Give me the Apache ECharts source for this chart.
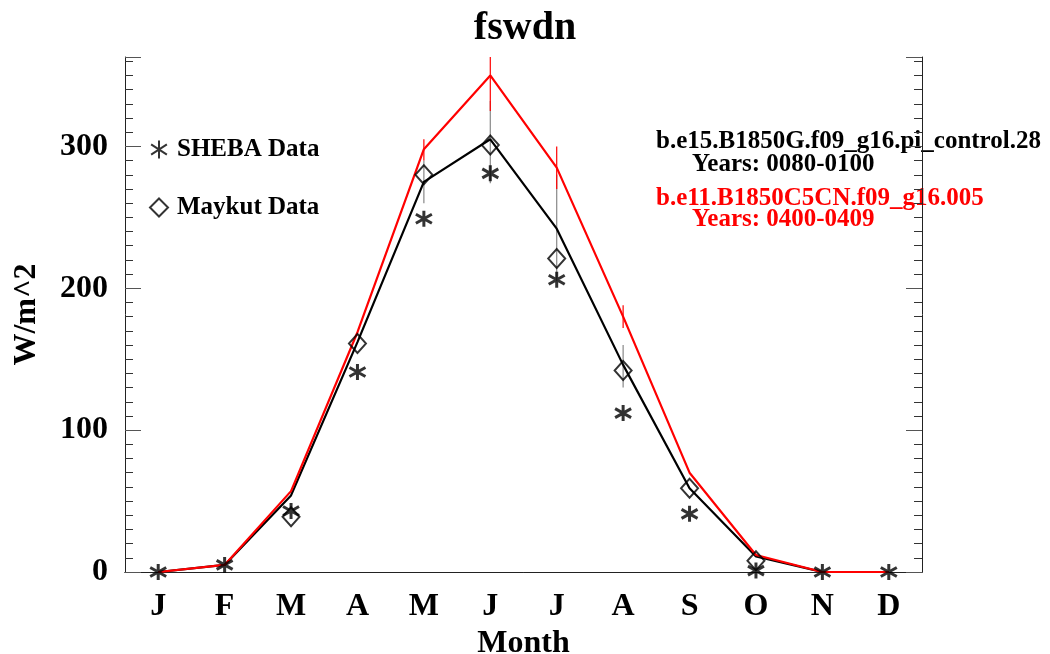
<!DOCTYPE html>
<html>
<head>
<meta charset="utf-8">
<script src="https://cdn.jsdelivr.net/npm/echarts@6/dist/echarts.min.js"></script>
<style>
  html, body { margin: 0; padding: 0; background: #fff; }
  #main { width: 1050px; height: 654px; }
</style>
</head>
<body>
<div id="main"></div>
<script>
// month labels on the x axis
const months = ['J', 'F', 'M', 'A', 'M', 'J', 'J', 'A', 'S', 'O', 'N', 'D'];

// model runs
const controlRun = [0, 5, 54, 162, 275, 305, 242, 146, 59, 11, 0, 0];
const c5cnRun = [0, 5, 57, 169, 298, 350, 285, 180, 70, 12, 0, 0];

// observations
const shebaData = [0, 5, 43, 141, 249, 281, 206, 112, 41, 1, 0, 0];
const maykutData = [null, null, 39, 161, 280, 301, 221, 142, 59, 8, null, null];

// error ranges [month index, low, high]
const controlErr = [[4, 260, 290], [5, 274, 332], [6, 205, 280], [7, 130, 160]];
const c5cnErr = [[4, 290, 305], [5, 325, 375], [6, 270, 300], [7, 172, 188]];

const yMax = 363;
const serif = "'Liberation Serif', 'Times New Roman', serif";
const asterisk = 'path://M0,-8L0,8M-7,-4.5L7,4.5M-7,4.5L7,-4.5';

function errBars(color) {
  return function (params, api) {
    const x = api.value(0);
    const lo = api.coord([x, api.value(1)]);
    const hi = api.coord([x, Math.min(api.value(2), yMax)]);
    return {
      type: 'line',
      shape: { x1: lo[0], y1: lo[1], x2: hi[0], y2: hi[1] },
      style: { stroke: color, lineWidth: 1.2 }
    };
  };
}

const chart = echarts.init(document.getElementById('main'));

const option = {
  animation: false,
  backgroundColor: '#fff',
  title: {
    text: 'fswdn',
    left: 'center',
    top: 4,
    textStyle: { fontFamily: serif, fontWeight: 'bold', fontSize: 40, color: '#000' }
  },
  legend: {
    orient: 'vertical',
    left: 144,
    top: 132,
    itemWidth: 18,
    itemHeight: 18,
    itemGap: 33,
    data: ['SHEBA Data', 'Maykut Data'],
    textStyle: { fontFamily: serif, fontWeight: 'bold', fontSize: 25, color: '#000', padding: [0, 0, 0, 4] }
  },
  grid: { left: 125, right: 128, top: 57, bottom: 82, outerBoundsMode: 'none' },
  xAxis: [{
    type: 'category',
    data: months,
    position: 'bottom',
    name: 'Month',
    nameLocation: 'middle',
    nameGap: 50,
    nameTextStyle: { fontFamily: serif, fontWeight: 'bold', fontSize: 32, color: '#000' },
    axisLine: { lineStyle: { color: '#222', width: 1 } },
    axisTick: { inside: true, length: 10, alignWithLabel: true, lineStyle: { color: '#666' } },
    axisLabel: { margin: 19, fontFamily: serif, fontWeight: 'bold', fontSize: 32, color: '#000' },
    splitLine: { show: false }
  }, {
    type: 'category',
    data: months,
    position: 'top',
    axisLine: { lineStyle: { color: '#222', width: 1 } },
    axisTick: { inside: true, length: 10, alignWithLabel: true, lineStyle: { color: '#888' } },
    axisLabel: { show: false },
    splitLine: { show: false }
  }],
  yAxis: [{
    type: 'value',
    min: 0,
    max: yMax,
    interval: 100,
    position: 'left',
    name: 'W/m^2',
    nameLocation: 'middle',
    nameGap: 82,
    nameTextStyle: { fontFamily: serif, fontWeight: 'bold', fontSize: 32, color: '#000' },
    axisLine: { show: true, lineStyle: { color: '#222', width: 1 } },
    axisTick: { show: true, inside: true, length: 16, lineStyle: { color: '#555' } },
    minorTick: { show: true, splitNumber: 10, length: 8, lineStyle: { color: '#333' } },
    axisLabel: { margin: 17, showMaxLabel: false, fontFamily: serif, fontWeight: 'bold', fontSize: 32, color: '#000' },
    splitLine: { show: false }
  }, {
    type: 'value',
    min: 0,
    max: yMax,
    interval: 100,
    position: 'right',
    axisLine: { show: true, lineStyle: { color: '#222', width: 1 } },
    axisTick: { show: true, inside: true, length: 16, lineStyle: { color: '#555' } },
    minorTick: { show: true, splitNumber: 10, length: 8, lineStyle: { color: '#333' } },
    axisLabel: { show: false },
    splitLine: { show: false }
  }],
  graphic: [
    { type: 'text', left: 656, top: 129, style: { text: 'b.e15.B1850G.f09_g16.pi_control.28', fill: '#000', font: 'bold 25px ' + serif } },
    { type: 'text', left: 692, top: 152, style: { text: 'Years: 0080-0100', fill: '#000', font: 'bold 25px ' + serif } },
    { type: 'text', left: 656, top: 186, style: { text: 'b.e11.B1850C5CN.f09_g16.005', fill: '#ff0000', font: 'bold 25px ' + serif } },
    { type: 'text', left: 692, top: 207, style: { text: 'Years: 0400-0409', fill: '#ff0000', font: 'bold 25px ' + serif } }
  ],
  series: [
    {
      type: 'custom',
      name: 'control err',
      renderItem: errBars('#888'),
      data: controlErr,
      z: 1
    },
    {
      type: 'custom',
      name: 'c5cn err',
      renderItem: errBars('#ff0000'),
      data: c5cnErr,
      z: 1
    },
    {
      type: 'line',
      name: 'b.e15',
      data: controlRun,
      symbol: 'none',
      lineStyle: { color: '#000', width: 2.2 },
      z: 2
    },
    {
      type: 'line',
      name: 'b.e11',
      data: c5cnRun,
      symbol: 'none',
      lineStyle: { color: '#ff0000', width: 2.2 },
      z: 3
    },
    {
      type: 'scatter',
      name: 'SHEBA Data',
      data: shebaData,
      symbol: asterisk,
      symbolSize: 16,
      itemStyle: { color: 'rgba(0,0,0,0)', borderColor: '#000', borderWidth: 3 },
      z: 4
    },
    {
      type: 'scatter',
      name: 'Maykut Data',
      data: maykutData,
      symbol: 'diamond',
      symbolSize: [17, 19],
      itemStyle: { color: 'rgba(255,255,255,0)', borderColor: '#000', borderWidth: 2 },
      z: 4
    }
  ]
};

chart.setOption(option);
</script>
</body>
</html>
